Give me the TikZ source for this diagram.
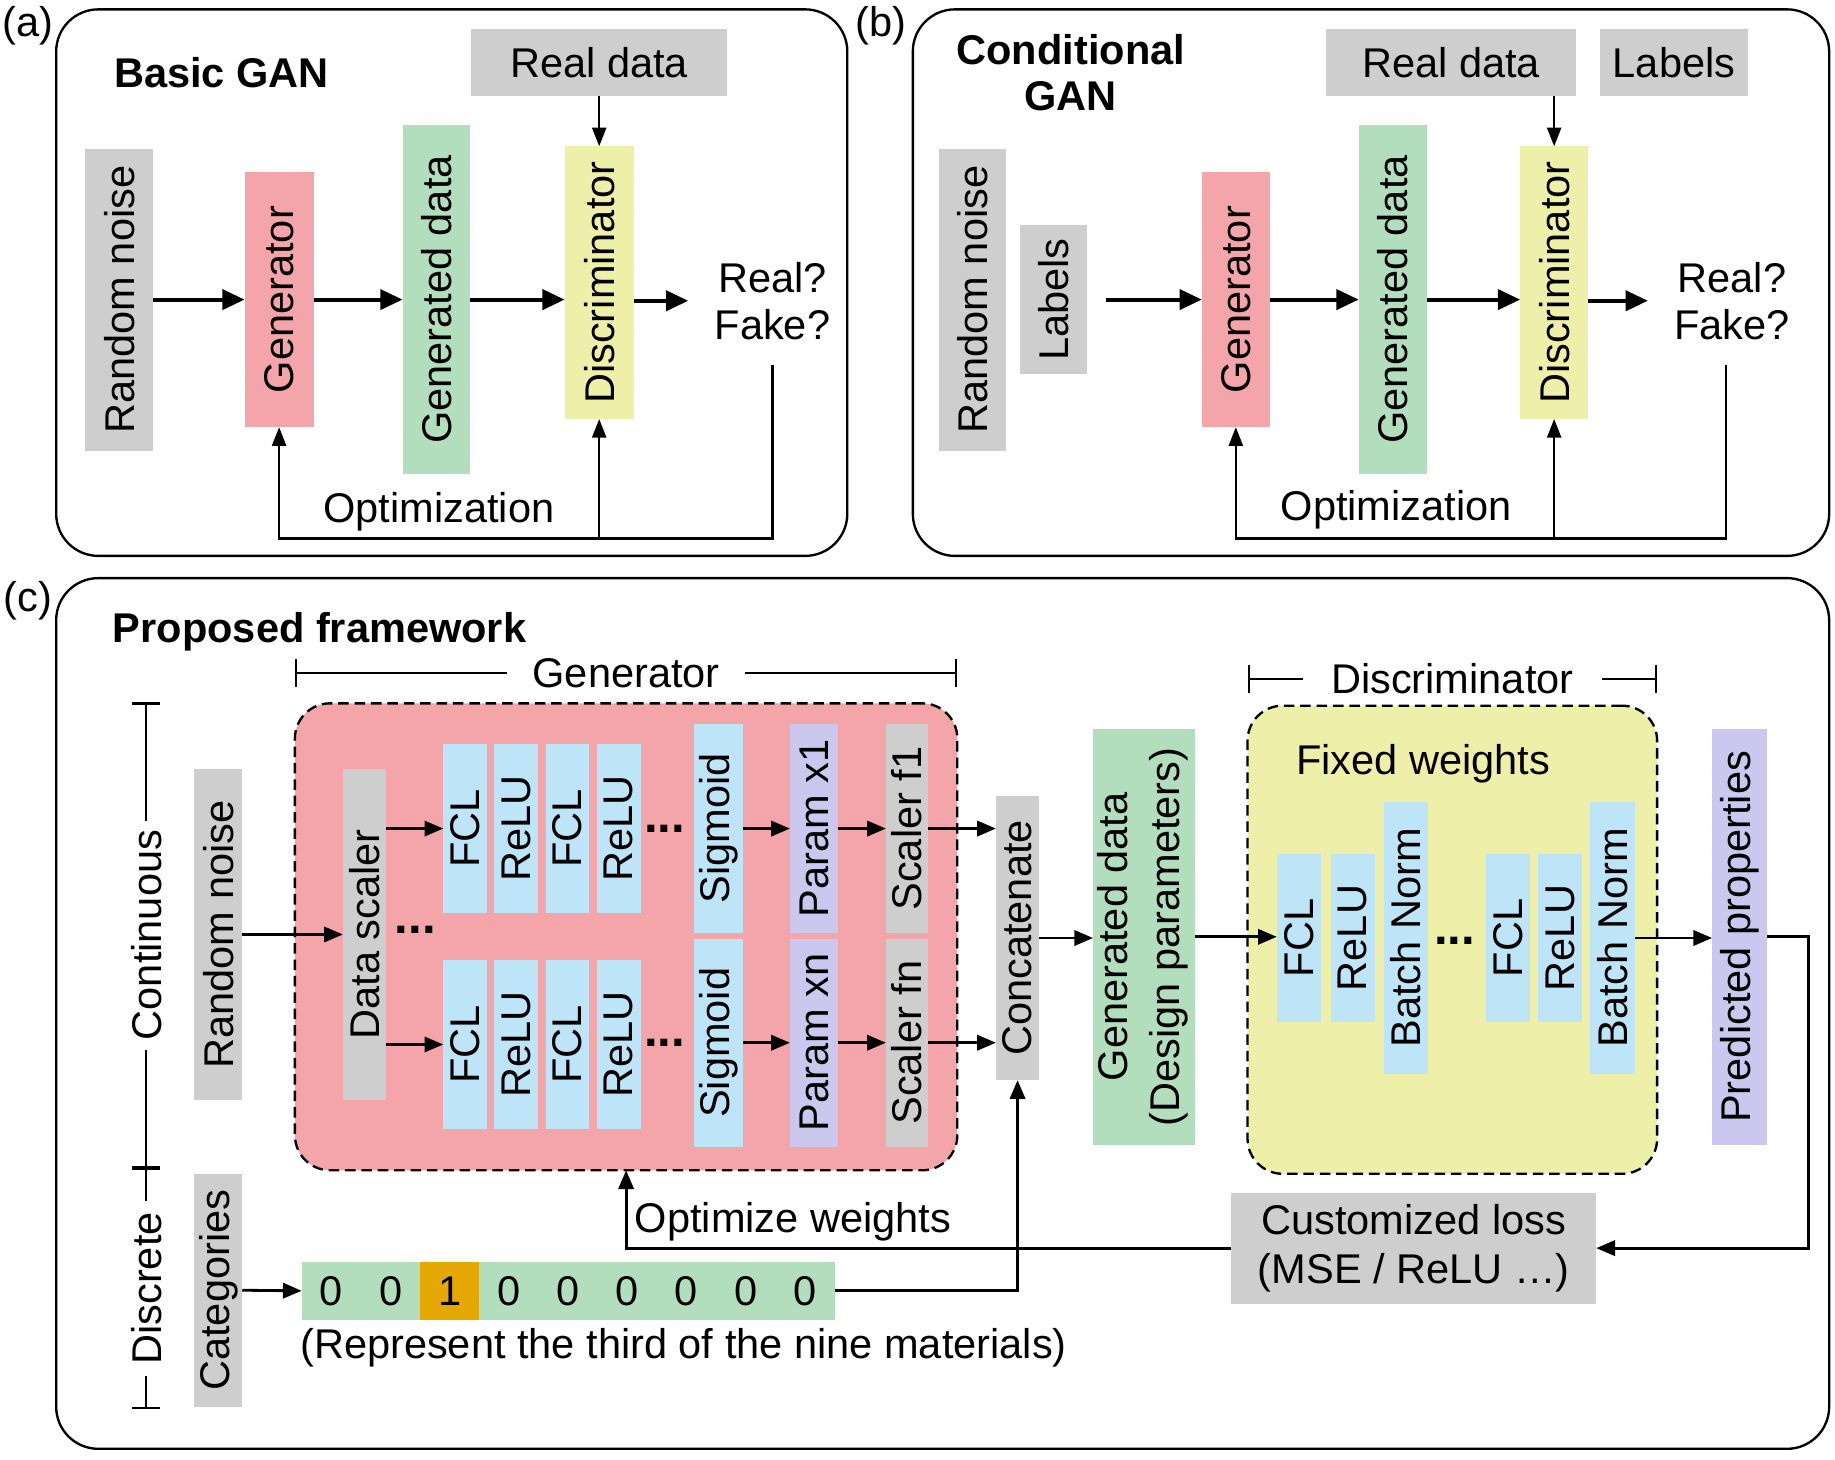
\documentclass[tikz,border=0pt]{standalone}
\usepackage{fontspec}
\setmainfont{Liberation Sans}
\usepackage{graphicx}
\usepackage{tikz}
\usetikzlibrary{arrows.meta, positioning, calc}
\definecolor{boxgray}{HTML}{CECECE}
\definecolor{genred}{HTML}{F4A5AA}
\definecolor{datgreen}{HTML}{B3DEBD}
\definecolor{disyellow}{HTML}{EEF0AA}
\definecolor{layblue}{HTML}{BEE4F7}
\definecolor{parpurple}{HTML}{CCC7EE}
\definecolor{hotorange}{HTML}{E5A800}
\newcommand{\rottext}[1]{\rotatebox{90}{#1}}
\tikzset{
  panel/.style={draw, line width=2pt, rounded corners=36pt},
  blk/.style={inner sep=0pt, outer sep=0pt, align=center},
  graybox/.style={blk, fill=boxgray},
  genbox/.style={blk, fill=genred},
  datbox/.style={blk, fill=datgreen},
  disbox/.style={blk, fill=disyellow},
  laybox/.style={blk, fill=layblue},
  parbox/.style={blk, fill=parpurple},
  group/.style={draw, line width=2pt, dash pattern=on 9pt off 5pt, rounded corners=30pt},
  hotcell/.style={blk, minimum width=51pt, minimum height=50pt},
  flow/.style={-{Triangle[length=19pt,width=17pt]}, line width=3.5pt},
  flowc/.style={-{Triangle[length=16pt,width=13pt]}, line width=2.4pt},
  fb/.style={-{Triangle[length=16pt,width=12pt]}, line width=2pt},
  brk/.style={{Bar[width=24pt]}-{Bar[width=24pt]}, line width=2pt},
  ell/.style={anchor=base, inner sep=0pt}
}
\begin{document}
\begin{tikzpicture}[x=1pt, y=-1pt, font=\fontsize{35.5}{40}\selectfont]
  \useasboundingbox (0,0) rectangle (1568,1247);

  % (a) Basic GAN
  \draw[panel] (48,8) rectangle (724,475);
  \node (tag_a) at (24,22) {(a)};
  \node[anchor=west] (title_a) at (94,62) {\textbf{Basic GAN}};
  \node[graybox, minimum width=219pt, minimum height=57pt] (real_a) at (512,53.5) {Real data};
  \node[graybox, minimum width=58pt, minimum height=258pt] (noise_a) at (102,256) {\rottext{Random noise}};
  \node[genbox, minimum width=59pt, minimum height=218pt] (gen_a) at (238.5,256) {\rottext{Generator}};
  \node[datbox, minimum width=58pt, minimum height=298pt] (data_a) at (373,256) {\rottext{Generated data}};
  \node[disbox, minimum width=59pt, minimum height=233pt] (dis_a) at (512,241.5) {\rottext{Discriminator}};
  \node[align=center] (rf_a) at (660,257) {Real?\\Fake?};
  \node (opt_a) at (375,437) {Optimization};
  \coordinate (fb_a) at (512,460);

  \draw[flow] (noise_a) -- (gen_a);
  \draw[flow] (gen_a) -- (data_a);
  \draw[flow] (data_a.east) -- (data_a.east -| dis_a.west);
  \draw[flow] (dis_a.east |- rf_a) -- ([xshift=-19pt]rf_a.west);
  \draw[fb] (real_a) -- (dis_a);
  \draw[fb] ([yshift=-18pt]rf_a.south) |- (fb_a) -| (gen_a.south);
  \draw[fb] (fb_a) -- (dis_a.south);

  % (b) Conditional GAN
  \draw[panel] (780,8) rectangle (1563,475);
  \node (tag_b) at (753,22) {(b)};
  \node[align=center] (title_b) at (915,62) {\textbf{Conditional}\\\textbf{GAN}};
  \node[graybox, minimum width=214pt, minimum height=57pt] (real_b) at (1240,53.5) {Real data};
  \node[graybox, minimum width=127pt, minimum height=57pt] (lbltop_b) at (1430.5,53.5) {Labels};
  \node[graybox, minimum width=58pt, minimum height=258pt] (noise_b) at (831,256) {\rottext{Random noise}};
  \node[graybox, minimum width=57pt, minimum height=127pt] (lab_b) at (900.5,256) {\rottext{Labels}};
  \node[genbox, minimum width=58pt, minimum height=218pt] (gen_b) at (1056,256) {\rottext{Generator}};
  \node[datbox, minimum width=58pt, minimum height=298pt] (data_b) at (1190,256) {\rottext{Generated data}};
  \node[disbox, minimum width=58pt, minimum height=233pt] (dis_b) at (1328,241.5) {\rottext{Discriminator}};
  \node[align=center] (rf_b) at (1480,257) {Real?\\Fake?};
  \node (opt_b) at (1193,436) {Optimization};
  \coordinate (fb_b) at (1328,460);

  \draw[flow] ([xshift=16pt]lab_b.east) -- (gen_b);
  \draw[flow] (gen_b) -- (data_b);
  \draw[flow] (data_b.east) -- (data_b.east -| dis_b.west);
  \draw[flow] (dis_b.east |- rf_b) -- ([xshift=-19pt]rf_b.west);
  \draw[fb] (real_b.south -| dis_b) -- (dis_b);
  \draw[fb] ([xshift=-5pt, yshift=-18pt]rf_b.south) |- (fb_b) -| (gen_b.south);
  \draw[fb] (fb_b) -- (dis_b.south);

  % (c) Proposed framework
  \begin{scope}[font=\fontsize{35.5}{40}\selectfont]
  \draw[panel] (48,494) rectangle (1563,1238);
  \node (tag_c) at (24,513) {(c)};
  \node[anchor=west] (title_c) at (93,540) {\textbf{Proposed framework}};

  \draw[brk] (125,600) -- (125,998) node[midway, rotate=90, fill=white, inner xsep=8pt] {Continuous};
  \draw[brk] (125,998) -- (125,1204) node[midway, rotate=90, fill=white, inner xsep=10pt] {Discrete};

  \node[graybox, minimum width=41pt, minimum height=283pt] (noise_c) at (186.5,798.5) {\rottext{Random noise}};
  \node[graybox, minimum width=41pt, minimum height=199pt] (cat_c) at (186.5,1102.5) {\rottext{Categories}};

  % generator
  \node[genbox, group, minimum width=566pt, minimum height=399pt] (gen_grp) at (535,800.5) {};
  \draw[brk] ([yshift=26pt]gen_grp.north west) -- ([yshift=26pt]gen_grp.north east)
    node[midway, fill=white, inner xsep=22pt] {Generator};
  \node[graybox, minimum width=37pt, minimum height=283pt] (scaler_c) at (311.5,798.5) {\rottext{Data scaler}};
  \node[ell] (dots_s) at (355,798) {\fontsize{42}{42}\selectfont\textbf{...}};
  \foreach \t [count=\i] in {FCL,ReLU,FCL,ReLU} {
    \node[laybox, minimum width=37.5pt, minimum height=144pt] (tl\i) at ({397.5+43.7*(\i-1)},708) {\rottext{\t}};
    \node[laybox, minimum width=37.5pt, minimum height=145pt] (bl\i) at ({397.5+43.7*(\i-1)},892.5) {\rottext{\t}};
  }
  \node[ell] (dots_t) at (568,711) {\fontsize{42}{42}\selectfont\textbf{...}};
  \node[ell] (dots_b) at (568,894) {\fontsize{42}{42}\selectfont\textbf{...}};
  \node[laybox, minimum width=42pt, minimum height=178pt] (sig1) at (614,708) {\rottext{Sigmoid}};
  \node[parbox, minimum width=41pt, minimum height=178pt] (par1) at (695.5,708) {\rottext{Param x1}};
  \node[graybox, minimum width=36pt, minimum height=178pt] (scl1) at (775,708) {\rottext{Scaler f1}};
  \node[laybox, minimum width=42pt, minimum height=178pt] (sig2) at (614,891) {\rottext{Sigmoid}};
  \node[parbox, minimum width=41pt, minimum height=178pt] (par2) at (695.5,891) {\rottext{Param xn}};
  \node[graybox, minimum width=36pt, minimum height=178pt] (scl2) at (775,891) {\rottext{Scaler fn}};

  \node[graybox, minimum width=37pt, minimum height=243pt] (concat_c) at (869.5,801.5) {\rottext{Concatenate}};
  \node[datbox, minimum width=87pt, minimum height=355pt] (data_c) at (977.5,800.5)
    {\rottext{\begin{tabular}{@{}c@{}}Generated data\\[4pt](Design parameters)\end{tabular}}};

  % discriminator
  \node[disbox, group, minimum width=350pt, minimum height=400pt] (dis_grp) at (1241,803) {};
  \draw[brk] ([yshift=23pt]dis_grp.north west) -- ([yshift=23pt]dis_grp.north east)
    node[midway, fill=white, inner xsep=24pt] {Discriminator};
  \node (fixed_c) at (1216,653) {Fixed weights};
  \node[laybox, minimum width=38pt, minimum height=143pt] (dfc1) at (1110,801.5) {\rottext{FCL}};
  \node[laybox, minimum width=38pt, minimum height=143pt] (drl1) at (1156,801.5) {\rottext{ReLU}};
  \node[laybox, minimum width=37pt, minimum height=233pt] (dbn1) at (1201.5,801.5) {\rottext{Batch Norm}};
  \node[ell] (dots_d) at (1243,807) {\fontsize{42}{42}\selectfont\textbf{...}};
  \node[laybox, minimum width=37pt, minimum height=143pt] (dfc2) at (1288.5,801.5) {\rottext{FCL}};
  \node[laybox, minimum width=38pt, minimum height=143pt] (drl2) at (1333,801.5) {\rottext{ReLU}};
  \node[laybox, minimum width=38pt, minimum height=233pt] (dbn2) at (1378,801.5) {\rottext{Batch Norm}};
  \node[parbox, minimum width=47pt, minimum height=355pt] (pred_c) at (1486.5,800.5) {\rottext{Predicted properties}};

  \node[graybox, minimum width=312pt, minimum height=95pt] (loss_c) at (1208,1066.5)
    {Customized loss\\[2pt](MSE / ReLU \dots)};
  \node[anchor=west] (optw_c) at (539,1044) {Optimize weights};

  % one-hot vector
  \foreach \v/\col [count=\i] in {0/datgreen,0/datgreen,1/hotorange,0/datgreen,0/datgreen,0/datgreen,0/datgreen,0/datgreen,0/datgreen} {
    \node[hotcell, fill=\col] (c\i) at ({258+50.56*(\i-0.5)},1103) {\v};
  }
  \node[anchor=west] (note_c) at (253,1152) {(Represent the third of the nine materials)};

  \draw[flowc] (noise_c) -- (scaler_c);
  \draw[flowc] (scaler_c.east |- tl1) -- (tl1);
  \draw[flowc] (scaler_c.east |- bl1) -- (bl1);
  \draw[flowc] (sig1) -- (par1);
  \draw[flowc] (par1) -- (scl1);
  \draw[flowc] (sig2) -- (par2);
  \draw[flowc] (par2) -- (scl2);
  \draw[flowc] (scl1.east) -- (scl1.east -| concat_c.west);
  \draw[flowc] (scl2.east) -- (scl2.east -| concat_c.west);
  \draw[flowc] (concat_c.east) -- (concat_c.east -| data_c.west);
  \draw[flowc] (data_c.east) -- (data_c.east -| dfc1.west);
  \draw[flowc] (dbn2.east) -- (dbn2.east -| pred_c.west);
  \draw[flowc] (pred_c.east) -- ++(35,0) |- (loss_c.east);
  \draw[flowc] (loss_c.west) -| (gen_grp.south);
  \draw[flowc] (cat_c.east) -- (c1.west);
  \draw[flowc] (c9.east) -| (concat_c.south);
  \end{scope}
\end{tikzpicture}
\end{document}
